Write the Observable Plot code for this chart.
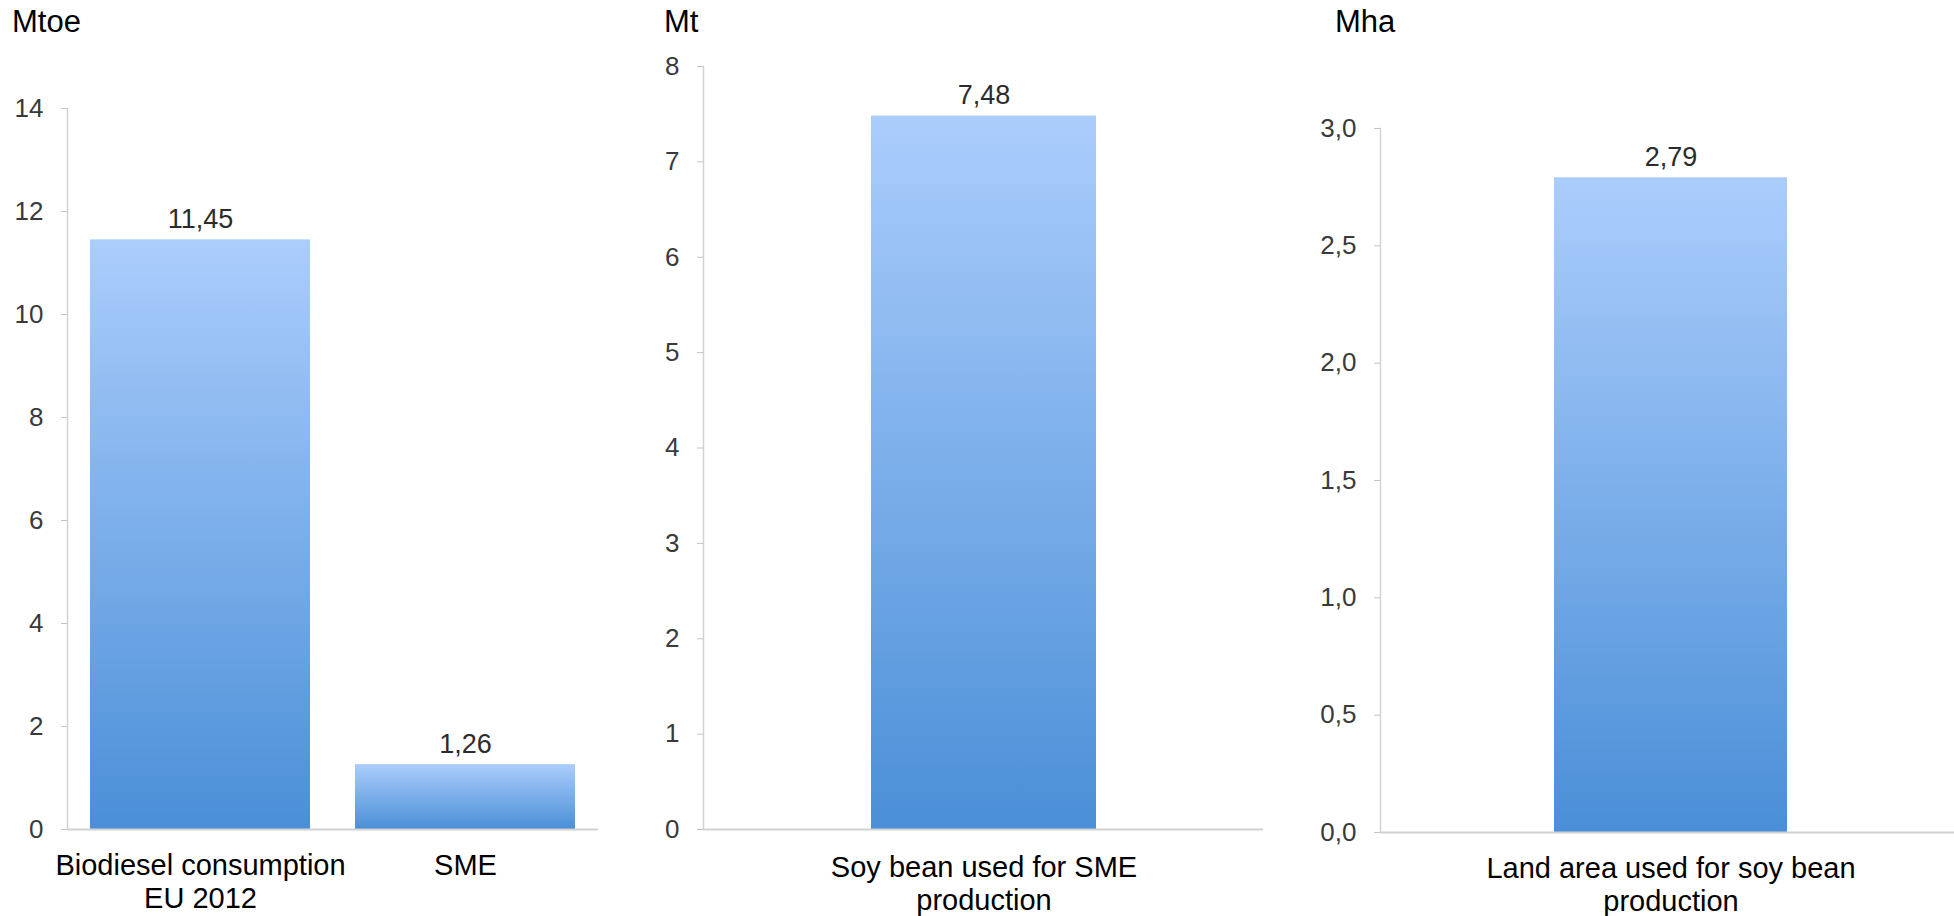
<!DOCTYPE html>
<html>
<head>
<meta charset="utf-8">
<script src="https://cdn.jsdelivr.net/npm/d3@7"></script>
<script src="https://cdn.jsdelivr.net/npm/@observablehq/plot@0.6"></script>
<style>
  html, body { margin: 0; padding: 0; background: #fff; }
  body {
    width: 1954px; height: 916px; position: relative; overflow: hidden;
    font-family: "Liberation Sans", Arial, Helvetica, sans-serif;
  }
  .panel { position: absolute; top: 0; }
  .unit { position: absolute; top: 6px; font-size: 31px; line-height: 31px; color: #000; white-space: nowrap; }
</style>
</head>
<body>
<svg width="0" height="0" style="position:absolute">
  <defs>
    <linearGradient id="barGradient" x1="0" y1="0" x2="0" y2="1">
      <stop offset="0" stop-color="#abcdfc"/>
      <stop offset="1" stop-color="#4a8fd7"/>
    </linearGradient>
  </defs>
</svg>
<div id="panel1" class="panel" style="left:0px"></div>
<div id="panel2" class="panel" style="left:640px"></div>
<div id="panel3" class="panel" style="left:1320px"></div>
<div class="unit" style="left:12px" id="unit1"></div>
<div class="unit" style="left:664px" id="unit2"></div>
<div class="unit" style="left:1335px" id="unit3"></div>
<script>
// Units shown above each chart
const units = ["Mtoe", "Mt", "Mha"];

// Biodiesel consumption in the EU (Mtoe)
const consumptionCategories = ["Biodiesel consumption\nEU 2012", "SME"];
const consumptionValues = [11.45, 1.26];
const consumptionTicks = [0, 2, 4, 6, 8, 10, 12, 14];

// Soy bean needed for SME (Mt)
const soyCategories = ["Soy bean used for SME\nproduction"];
const soyValues = [7.48];
const soyTicks = [0, 1, 2, 3, 4, 5, 6, 7, 8];

// Land area needed for that soy bean (Mha)
const landCategories = ["Land area used for soy bean\nproduction"];
const landValues = [2.79];
const landTicks = [0, 0.5, 1, 1.5, 2, 2.5, 3];

const FONT = '"Liberation Sans", Arial, Helvetica, sans-serif';
const locale = d3.formatLocale({decimal: ",", thousands: ".", grouping: [3], currency: ["", " €"]});
const fmtValue = locale.format(".2f");
const AXIS_GREY = "#d2d2d2";

function barPanel({categories, values, ticks, tickFormat, width, marginLeft, marginRight, marginTop, marginBottom, paddingInner, paddingOuter, xRange, labelGap}) {
  const data = categories.map((c, i) => ({category: c, value: values[i]}));
  const xScale = {domain: categories, paddingInner, paddingOuter, axis: null};
  if (xRange) xScale.range = xRange;
  return Plot.plot({
    width,
    height: 916,
    marginLeft, marginRight, marginTop, marginBottom,
    style: {fontFamily: FONT, background: "transparent", overflow: "visible"},
    x: xScale,
    y: {domain: [ticks[0], ticks[ticks.length - 1]], axis: null, label: null},
    marks: [
      Plot.barY(data, {x: "category", y: "value", fill: "url(#barGradient)"}),
      Plot.ruleY([0], {stroke: AXIS_GREY, strokeWidth: 2}),
      Plot.frame({anchor: "left", stroke: AXIS_GREY, strokeWidth: 1.5}),
      Plot.axisY(ticks, {
        label: null, tickSize: 6, tickPadding: 18, tickFormat,
        fontSize: 26, stroke: "#c4c4c4", fill: "#3a3a3a"
      }),
      Plot.text(data, {
        x: "category", y: "value", text: (d) => fmtValue(d.value),
        dy: -12, lineAnchor: "bottom", fontSize: 27, fill: "#2b2b2b"
      }),
      Plot.text(data, {
        x: "category", frameAnchor: "bottom", text: "category",
        lineAnchor: "top", dy: labelGap, fontSize: 29, lineHeight: 1.14, fill: "#000"
      })
    ]
  });
}

document.getElementById("panel1").append(barPanel({
  categories: consumptionCategories, values: consumptionValues, ticks: consumptionTicks,
  tickFormat: locale.format("d"),
  width: 640, marginLeft: 67, marginRight: 42, marginTop: 108, marginBottom: 87,
  paddingInner: 0.17, paddingOuter: 0.085, labelGap: 22
}));

document.getElementById("panel2").append(barPanel({
  categories: soyCategories, values: soyValues, ticks: soyTicks,
  tickFormat: locale.format("d"),
  width: 680, marginLeft: 63, marginRight: 57, marginTop: 66, marginBottom: 87,
  paddingInner: 0.4266, paddingOuter: 0.4266, labelGap: 24
}));

document.getElementById("panel3").append(barPanel({
  categories: landCategories, values: landValues, ticks: landTicks,
  tickFormat: locale.format(".1f"),
  width: 634, marginLeft: 60, marginRight: 0, marginTop: 128, marginBottom: 84,
  paddingInner: 0.4266, paddingOuter: 0.4266, xRange: [60, 641], labelGap: 22
}));

units.forEach((u, i) => { document.getElementById("unit" + (i + 1)).textContent = u; });
</script>
</body>
</html>
